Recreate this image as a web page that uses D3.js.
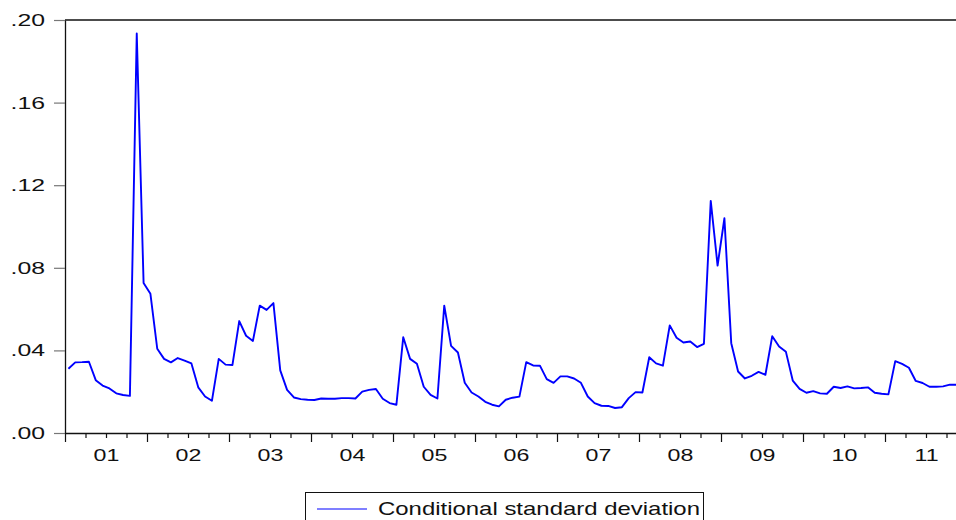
<!DOCTYPE html>
<html>
<head>
<meta charset="utf-8">
<script src="https://cdn.jsdelivr.net/npm/d3@7"></script>
<style>
  body { margin: 0; background: #fff; }
  svg { display: block; font-family: "Liberation Sans", Arial, sans-serif; }
</style>
</head>
<body>
<div id="chart"></div>
<script>
// monthly conditional standard deviation, 2001M01 .. 2011M11
let years = ["01", "02", "03", "04", "05", "06", "07", "08", "09", "10", "11"];
let yTicks = [0, 0.04, 0.08, 0.12, 0.16, 0.20];
let seriesName = "Conditional standard deviation";
let values = [
  0.0311, 0.0342, 0.0343, 0.0345, 0.0256, 0.0230, 0.0216, 0.0192, 0.0184, 0.0180, 0.1935, 0.0726,
  0.0674, 0.0408, 0.0359, 0.0342, 0.0363, 0.0351, 0.0337, 0.0221, 0.0177, 0.0156, 0.0359, 0.0331,
  0.0329, 0.0542, 0.0471, 0.0446, 0.0617, 0.0596, 0.0629, 0.0303, 0.0209, 0.0172, 0.0164, 0.0161,
  0.0160, 0.0167, 0.0166, 0.0166, 0.0169, 0.0169, 0.0167, 0.0200, 0.0209, 0.0213, 0.0166, 0.0145,
  0.0137, 0.0464, 0.0359, 0.0335, 0.0224, 0.0185, 0.0167, 0.0617, 0.0422, 0.0390, 0.0243, 0.0196,
  0.0177, 0.0151, 0.0137, 0.0129, 0.0161, 0.0171, 0.0176, 0.0343, 0.0327, 0.0326, 0.0261, 0.0243,
  0.0274, 0.0274, 0.0264, 0.0243, 0.0177, 0.0145, 0.0132, 0.0131, 0.0121, 0.0125, 0.0169, 0.0198,
  0.0196, 0.0367, 0.0337, 0.0326, 0.0521, 0.0461, 0.0438, 0.0443, 0.0416, 0.0432, 0.1124, 0.0811,
  0.1040, 0.0435, 0.0298, 0.0264, 0.0277, 0.0296, 0.0282, 0.0469, 0.0419, 0.0393, 0.0254, 0.0214,
  0.0195, 0.0203, 0.0192, 0.0190, 0.0224, 0.0218, 0.0226, 0.0216, 0.0218, 0.0221, 0.0195, 0.0190,
  0.0187, 0.0348, 0.0335, 0.0316, 0.0252, 0.0242, 0.0224, 0.0224, 0.0226, 0.0234, 0.0234
];

let margin = {top: 20, left: 65, bottom: 87},
    svgWidth = 956, svgHeight = 520,
    plotRight = 967,   // frame runs past the right edge of the picture
    height = svgHeight - margin.top - margin.bottom,
    nMonths = years.length * 12;

let svg = d3.select("#chart").append("svg")
    .attr("width", svgWidth)
    .attr("height", svgHeight);

let g = svg.append("g")
    .attr("transform", "translate(0," + margin.top + ")");

let xScale = d3.scaleLinear()
    .domain([0, nMonths])
    .range([margin.left, plotRight]);

let yScale = d3.scaleLinear()
    .domain([0, 0.20])
    .range([height, 0]);

// y axis
let yAxis = d3.axisLeft(yScale)
    .tickValues(yTicks)
    .tickSize(11)
    .tickSizeOuter(0)
    .tickFormat(function(d) { return d3.format(".2f")(d).replace(/^0/, ""); });

let yAxis_g = g.append("g")
    .attr("class", "y axis")
    .attr("transform", "translate(" + margin.left + ",0)")
    .call(yAxis);
yAxis_g.select(".domain").attr("stroke", "#111").attr("stroke-width", 1.3);
yAxis_g.selectAll(".tick line").attr("stroke", "#777").attr("stroke-width", 1.2);
yAxis_g.selectAll(".tick text")
    .attr("x", -20 / 1.55)
    .attr("dy", "0.34em")
    .attr("transform", "scale(1.55,1)")
    .style("font-size", "16px")
    .attr("fill", "#111");

// x axis: quarterly ticks, longer at year starts
let quarterTicks = d3.range(0, nMonths + 1, 3);
let xAxis = d3.axisBottom(xScale)
    .tickValues(quarterTicks)
    .tickSizeOuter(0)
    .tickFormat("");

let xAxis_g = g.append("g")
    .attr("class", "x axis")
    .attr("transform", "translate(0," + height + ")")
    .call(xAxis);
xAxis_g.select(".domain").attr("stroke", "#111").attr("stroke-width", 1.3);
xAxis_g.selectAll(".tick line")
    .attr("stroke", "#111")
    .attr("stroke-width", 1.2)
    .attr("y2", function(d) { return d % 12 === 0 ? 9 : 5; });

// year labels centred in each year
let yearAxis = d3.axisBottom(xScale)
    .tickValues(years.map(function(d, i) { return i * 12 + 6; }))
    .tickSize(0)
    .tickFormat(function(d, i) { return years[i]; });

let yearAxis_g = g.append("g")
    .attr("class", "year axis")
    .attr("transform", "translate(0," + height + ")")
    .call(yearAxis);
yearAxis_g.select(".domain").remove();
yearAxis_g.selectAll(".tick text")
    .attr("y", 28)
    .attr("dy", 0)
    .attr("transform", "scale(1.45,1)")
    .style("font-size", "16px")
    .attr("fill", "#111");

// top frame line
g.append("line")
    .attr("x1", margin.left).attr("x2", plotRight)
    .attr("y1", yScale(0.20)).attr("y2", yScale(0.20))
    .attr("stroke", "#111")
    .attr("stroke-width", 1.3);

// series
let line = d3.line()
    .x(function(d, i) { return xScale(i + 0.5); })
    .y(function(d) { return yScale(d); });

g.append("path")
    .attr("d", line(values))
    .style("fill", "none")
    .attr("stroke", "#0000ff")
    .attr("stroke-width", 1.9)
    .attr("stroke-linejoin", "round");

// legend
let legend = svg.append("g").attr("class", "legend");
legend.append("rect")
    .attr("x", 305.5).attr("y", 492.5)
    .attr("width", 398).attr("height", 40)
    .attr("fill", "#fff")
    .attr("stroke", "#111")
    .attr("stroke-width", 1);
legend.append("line")
    .attr("x1", 317).attr("x2", 367)
    .attr("y1", 509).attr("y2", 509)
    .attr("stroke", "#0000ff")
    .attr("stroke-width", 1.2);
legend.append("text")
    .attr("x", 378).attr("y", 515)
    .attr("textLength", 322)
    .attr("lengthAdjust", "spacingAndGlyphs")
    .style("font-size", "19px")
    .attr("fill", "#111")
    .text(seriesName);
</script>
</body>
</html>
